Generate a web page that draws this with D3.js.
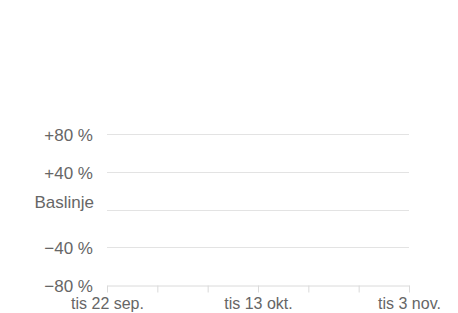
<!DOCTYPE html>
<html>
<head>
<meta charset="utf-8">
<script src="https://cdn.jsdelivr.net/npm/d3@7"></script>
<style>
  body { margin: 0; background: #fff; }
  svg { display: block; }
  text { font-family: Arial, "Liberation Sans", Helvetica, sans-serif; }
</style>
</head>
<body>
<div id="chart"></div>
<script>
// y ticks (percent change from baseline)
var yTicks = [80, 40, 0, -40, -80];
var yTickLabels = ["+80 %", "+40 %", "Baslinje", "\u221240 %", "\u221280 %"];

// x: weekly ticks, label every third one
var weekTicks = ["2020-09-22", "2020-09-29", "2020-10-06", "2020-10-13", "2020-10-20", "2020-10-27", "2020-11-03"];
var dateLabels = ["tis 22 sep.", "", "", "tis 13 okt.", "", "", "tis 3 nov."];

var width = 458, height = 313;
var margin = { top: 134, right: 49, bottom: 28, left: 107 };

var parse = d3.timeParse("%Y-%m-%d");
var dates = weekTicks.map(parse);

var svg = d3.select("#chart")
  .append("svg")
  .attr("width", width)
  .attr("height", height);

var x = d3.scaleTime()
  .domain([dates[0], dates[dates.length - 1]])
  .range([margin.left, width - margin.right]);

var y = d3.scaleLinear()
  .domain([80, -80])
  .range([margin.top, height - margin.bottom]);

// gridlines
svg.append("g")
  .selectAll("line")
  .data(yTicks.filter(function (d) { return d !== -80; }))
  .enter().append("line")
  .attr("x1", x.range()[0])
  .attr("x2", x.range()[1])
  .attr("y1", function (d) { return Math.round(y(d)) + 0.5; })
  .attr("y2", function (d) { return Math.round(y(d)) + 0.5; })
  .attr("stroke", "#e3e3e3")
  .attr("stroke-width", 1);

// y labels
svg.append("g")
  .selectAll("text")
  .data(yTicks)
  .enter().append("text")
  .attr("x", function (d) { return d === 0 ? 94 : 93; })
  .attr("y", function (d) { return y(d); })
  .attr("dy", function (d) { return d === 0 ? "-0.1em" : "0.4em"; })
  .attr("text-anchor", "end")
  .attr("font-size", "17px")
  .attr("fill", "#666")
  .text(function (d, i) { return yTickLabels[i]; });

// x axis
var xAxis = d3.axisBottom(x)
  .tickValues(dates)
  .tickSize(7)
  .tickSizeOuter(0)
  .tickFormat(function (d, i) { return dateLabels[i]; });

var gx = svg.append("g")
  .attr("transform", "translate(0," + (Math.round(y(-80)) + 0.5) + ")")
  .call(xAxis);

gx.select(".domain").attr("stroke", "#dadada");
gx.selectAll(".tick line").attr("stroke", "#dadada");
gx.selectAll(".tick text")
  .attr("font-size", "16px")
  .attr("fill", "#666")
  .attr("y", 12)
  .attr("dy", "0.71em");
gx.attr("font-family", null);
</script>
</body>
</html>
